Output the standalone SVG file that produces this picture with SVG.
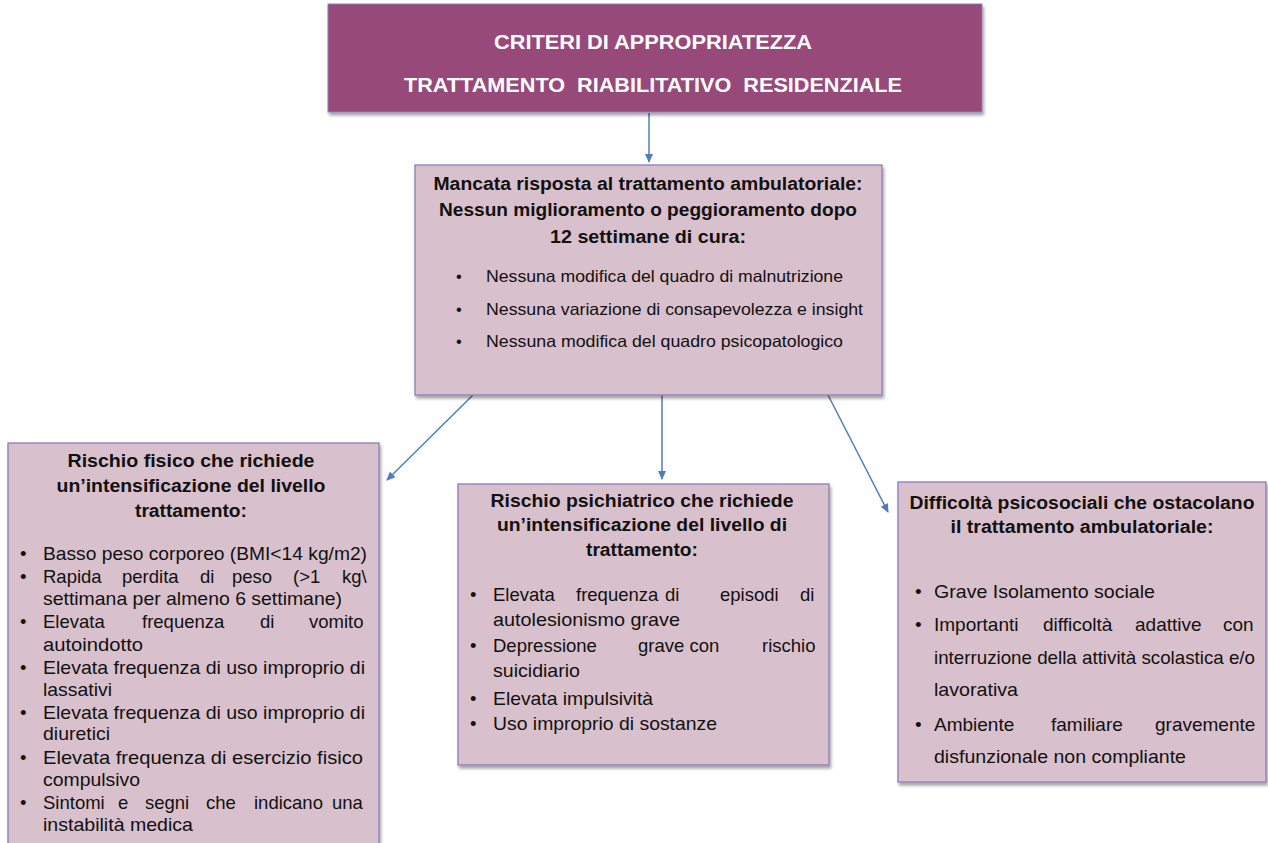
<svg xmlns="http://www.w3.org/2000/svg" width="1268" height="843" viewBox="0 0 1268 843">
<style>
.bx{fill:#D9C0CD;stroke:#8C7DB8;stroke-width:1.3}
.top{fill:#974A7A;stroke:#8C7DB8;stroke-width:1}
.tt{font-family:"Liberation Sans",Arial,sans-serif;font-weight:bold;font-size:21px;fill:#FFFFFF}
.h{font-family:"Liberation Sans",Arial,sans-serif;font-weight:bold;font-size:18px;fill:#111}
.b{font-family:"Liberation Sans",Arial,sans-serif;font-size:18.5px;fill:#111}
.r{font-family:"Liberation Sans",Arial,sans-serif;font-size:19px;fill:#111}
.s{font-family:"Liberation Sans",Arial,sans-serif;font-size:16.5px;fill:#111}
.c{stroke:#4F7EBF;stroke-width:1.5;fill:none;marker-end:url(#ah)}
</style>
<defs>
<marker id="ah" markerWidth="10" markerHeight="10" refX="8" refY="5" orient="auto" markerUnits="userSpaceOnUse">
<path d="M0,1 L9,5 L0,9 Z" fill="#4F7EBF"/>
</marker>
<filter id="sh" x="-5%" y="-5%" width="115%" height="120%">
<feDropShadow dx="1.5" dy="3" stdDeviation="1.8" flood-color="#000" flood-opacity="0.35"/>
</filter>
</defs>
<rect width="1268" height="843" fill="#FFFFFF"/>

<g id="connectors">
<line class="c" x1="649" y1="113" x2="649" y2="162"/>
<line class="c" x1="473" y1="395" x2="387" y2="480"/>
<line class="c" x1="662" y1="395" x2="662" y2="479"/>
<line class="c" x1="828" y1="395" x2="888" y2="512"/>
</g>

<g id="title">
<rect class="top" x="328" y="4" width="654" height="108" filter="url(#sh)"/>
<text class="tt" x="653" y="49" text-anchor="middle" textLength="318" lengthAdjust="spacingAndGlyphs">CRITERI DI APPROPRIATEZZA</text>
<text class="tt" x="653" y="92" text-anchor="middle" textLength="498" lengthAdjust="spacingAndGlyphs" xml:space="preserve">TRATTAMENTO  RIABILITATIVO  RESIDENZIALE</text>
</g>

<g id="mancata">
<rect class="bx" x="415" y="165" width="467" height="230" filter="url(#sh)"/>
<text class="h" x="648" y="190" text-anchor="middle" textLength="429" lengthAdjust="spacingAndGlyphs">Mancata risposta al trattamento ambulatoriale:</text>
<text class="h" x="648" y="216" text-anchor="middle" textLength="418" lengthAdjust="spacingAndGlyphs">Nessun miglioramento o peggioramento dopo</text>
<text class="h" x="648" y="243" text-anchor="middle" textLength="196" lengthAdjust="spacingAndGlyphs">12 settimane di cura:</text>
<text class="s" x="456" y="282">•</text>
<text class="s" x="486" y="282" textLength="357" lengthAdjust="spacingAndGlyphs">Nessuna modifica del quadro di malnutrizione</text>
<text class="s" x="456" y="315">•</text>
<text class="s" x="486" y="315" textLength="377" lengthAdjust="spacingAndGlyphs">Nessuna variazione di consapevolezza e insight</text>
<text class="s" x="456" y="347">•</text>
<text class="s" x="486" y="347" textLength="357" lengthAdjust="spacingAndGlyphs">Nessuna modifica del quadro psicopatologico</text>
</g>

<g id="rischio-fisico">
<rect class="bx" x="8" y="443" width="371" height="410" filter="url(#sh)"/>
<text class="h" x="191" y="467" text-anchor="middle" textLength="247" lengthAdjust="spacingAndGlyphs">Rischio fisico che richiede</text>
<text class="h" x="191" y="492" text-anchor="middle" textLength="269" lengthAdjust="spacingAndGlyphs">un’intensificazione del livello</text>
<text class="h" x="191" y="517" text-anchor="middle" textLength="112" lengthAdjust="spacingAndGlyphs">trattamento:</text>
<g class="b">
<text x="20" y="560">•</text>
<text x="43" y="560" textLength="324" lengthAdjust="spacingAndGlyphs">Basso peso corporeo (BMI&lt;14 kg/m2)</text>
<text x="20" y="583">•</text>
<text y="583"><tspan x="43">Rapida</tspan><tspan x="122">perdita</tspan><tspan x="200">di</tspan><tspan x="232">peso</tspan><tspan x="293">(&gt;1</tspan><tspan x="342">kg\</tspan></text>
<text x="43" y="605" textLength="299" lengthAdjust="spacingAndGlyphs">settimana per almeno 6 settimane)</text>
<text x="20" y="628">•</text>
<text y="628"><tspan x="43">Elevata</tspan><tspan x="142">frequenza</tspan><tspan x="260">di</tspan><tspan x="309">vomito</tspan></text>
<text x="43" y="651" textLength="100" lengthAdjust="spacingAndGlyphs">autoindotto</text>
<text x="20" y="674">•</text>
<text x="43" y="674" textLength="322" lengthAdjust="spacingAndGlyphs">Elevata frequenza di uso improprio di</text>
<text x="43" y="696" textLength="69" lengthAdjust="spacingAndGlyphs">lassativi</text>
<text x="20" y="719">•</text>
<text x="43" y="719" textLength="322" lengthAdjust="spacingAndGlyphs">Elevata frequenza di uso improprio di</text>
<text x="43" y="740" textLength="67" lengthAdjust="spacingAndGlyphs">diuretici</text>
<text x="20" y="764">•</text>
<text x="43" y="764" textLength="320" lengthAdjust="spacingAndGlyphs">Elevata frequenza di esercizio fisico</text>
<text x="43" y="786" textLength="97" lengthAdjust="spacingAndGlyphs">compulsivo</text>
<text x="20" y="809">•</text>
<text y="809"><tspan x="43">Sintomi</tspan><tspan x="118">e</tspan><tspan x="145">segni</tspan><tspan x="206">che</tspan><tspan x="254">indicano</tspan><tspan x="332">una</tspan></text>
<text x="43" y="831" textLength="150" lengthAdjust="spacingAndGlyphs">instabilità medica</text>
</g>
</g>

<g id="rischio-psichiatrico">
<rect class="bx" x="458" y="484" width="371" height="281" filter="url(#sh)"/>
<text class="h" x="642" y="507" text-anchor="middle" textLength="303" lengthAdjust="spacingAndGlyphs">Rischio psichiatrico che richiede</text>
<text class="h" x="642" y="531" text-anchor="middle" textLength="290" lengthAdjust="spacingAndGlyphs">un’intensificazione del livello di</text>
<text class="h" x="642" y="556" text-anchor="middle" textLength="112" lengthAdjust="spacingAndGlyphs">trattamento:</text>
<g class="b">
<text x="470" y="601">•</text>
<text y="601"><tspan x="493">Elevata</tspan><tspan x="576">frequenza</tspan><tspan x="665">di</tspan><tspan x="720">episodi</tspan><tspan x="800">di</tspan></text>
<text x="493" y="626" textLength="187" lengthAdjust="spacingAndGlyphs">autolesionismo grave</text>
<text x="470" y="652">•</text>
<text y="652"><tspan x="493">Depressione</tspan><tspan x="638">grave con</tspan><tspan x="762">rischio</tspan></text>
<text x="493" y="677" textLength="87" lengthAdjust="spacingAndGlyphs">suicidiario</text>
<text x="470" y="705">•</text>
<text x="493" y="705" textLength="160" lengthAdjust="spacingAndGlyphs">Elevata impulsività</text>
<text x="470" y="730">•</text>
<text x="493" y="730" textLength="224" lengthAdjust="spacingAndGlyphs">Uso improprio di sostanze</text>
</g>
</g>

<g id="difficolta">
<rect class="bx" x="898" y="482" width="368" height="300" filter="url(#sh)"/>
<text class="h" x="1082" y="509" text-anchor="middle" textLength="345" lengthAdjust="spacingAndGlyphs">Difficoltà psicosociali che ostacolano</text>
<text class="h" x="1082" y="533" text-anchor="middle" textLength="263" lengthAdjust="spacingAndGlyphs">il trattamento ambulatoriale:</text>
<g class="r">
<text x="915" y="598">•</text>
<text x="934" y="598" textLength="221" lengthAdjust="spacingAndGlyphs">Grave Isolamento sociale</text>
<text x="915" y="631">•</text>
<text y="631"><tspan x="934">Importanti</tspan><tspan x="1043">difficoltà</tspan><tspan x="1135">adattive</tspan><tspan x="1223">con</tspan></text>
<text x="934" y="664" textLength="321" lengthAdjust="spacingAndGlyphs">interruzione della attività scolastica e/o</text>
<text x="934" y="696" textLength="84" lengthAdjust="spacingAndGlyphs">lavorativa</text>
<text x="915" y="731">•</text>
<text y="731"><tspan x="934">Ambiente</tspan><tspan x="1051">familiare</tspan><tspan x="1155">gravemente</tspan></text>
<text x="934" y="763" textLength="252" lengthAdjust="spacingAndGlyphs">disfunzionale non compliante</text>
</g>
</g>
</svg>
